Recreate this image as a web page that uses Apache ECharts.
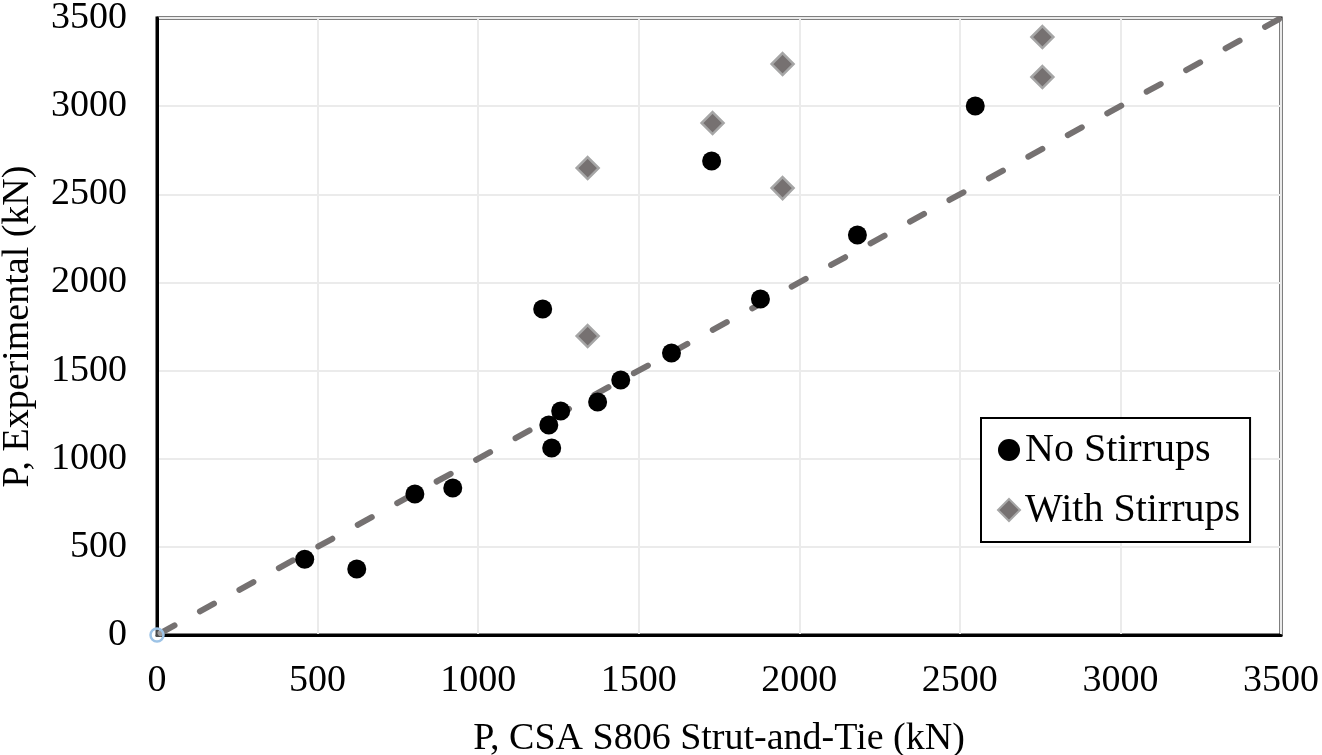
<!DOCTYPE html>
<html>
<head>
<meta charset="utf-8">
<script src="https://cdn.jsdelivr.net/npm/echarts@6/dist/echarts.min.js"></script>
<style>
  html, body { margin: 0; padding: 0; background: #fff; }
  #chart { width: 1322px; height: 755px; }
</style>
</head>
<body>
<div id="chart"></div>
<script>
// No Stirrups: [P CSA S806, P experimental] (kN)
const noStirrupsX = [460, 622, 803, 921, 1201, 1220, 1229, 1257, 1372, 1444, 1602, 1727, 1879, 2181, 2548]
const noStirrupsY = [430, 374, 800, 834, 1849, 1191, 1061, 1271, 1322, 1446, 1600, 2689, 1906, 2269, 3001]
// With Stirrups
const withStirrupsX = [1341, 1341, 1730, 1948, 1948, 2757, 2757]
const withStirrupsY = [2649, 1696, 2904, 3239, 2535, 3392, 3165]
// 1:1 line
const lineX = [0, 3500]
const lineY = [0, 3500]
const axisTicks = [0, 500, 1000, 1500, 2000, 2500, 3000, 3500]

const zip = (a, b) => a.map((v, i) => [v, b[i]])
const font = 'Liberation Serif'

const axisCommon = {
  type: 'value',
  min: axisTicks[0],
  max: axisTicks[axisTicks.length - 1],
  interval: axisTicks[1] - axisTicks[0],
  nameLocation: 'middle',
  nameTextStyle: { fontFamily: font, fontSize: 38, color: '#000' },
  axisLine: { show: true, lineStyle: { color: '#000', width: 3 } },
  axisTick: { show: false },
  axisLabel: { fontFamily: font, fontSize: 38, color: '#000', formatter: v => String(v) },
  splitLine: { show: true, lineStyle: { color: '#ebebeb', width: 2 } }
}

const chart = echarts.init(document.getElementById('chart'), null, { renderer: 'canvas' })
chart.setOption({
  animation: false,
  grid: {
    left: 157, right: 41, top: 18, bottom: 120,
    outerBoundsMode: 'none',
    containLabel: false,
    show: true, borderColor: '#000', borderWidth: 3, backgroundColor: 'transparent'
  },
  legend: {
    orient: 'vertical',
    left: 981, top: 418,
    padding: [12, 10, 12, 16],
    borderColor: '#000', borderWidth: 2,
    backgroundColor: '#fff',
    itemWidth: 22, itemHeight: 22, itemGap: 20,
    textStyle: { fontFamily: font, fontSize: 40, color: '#000' },
    data: ['No Stirrups', 'With Stirrups']
  },
  xAxis: Object.assign({}, axisCommon, {
    name: 'P, CSA S806 Strut-and-Tie (kN)',
    nameGap: 85,
    axisLabel: Object.assign({}, axisCommon.axisLabel, { margin: 27 })
  }),
  yAxis: Object.assign({}, axisCommon, {
    name: 'P, Experimental (kN)',
    nameGap: 120,
    axisLabel: Object.assign({}, axisCommon.axisLabel, { margin: 30 })
  }),
  series: [
    {
      name: '1:1',
      type: 'line',
      z: 1,
      data: zip(lineX, lineY),
      showSymbol: false,
      lineStyle: { color: '#757171', width: 6, type: [16, 29], dashOffset: -4, cap: 'round' }
    },
    {
      name: 'origin',
      type: 'scatter',
      z: 5,
      zlevel: 1,
      clip: false,
      data: [[lineX[0], lineY[0]]],
      symbol: 'circle',
      symbolSize: 13,
      itemStyle: { color: 'rgba(255,255,255,0.3)', borderColor: '#9dc3e6', borderWidth: 2.5, opacity: 1 }
    },
    {
      name: 'No Stirrups',
      type: 'scatter',
      z: 3,
      data: zip(noStirrupsX, noStirrupsY),
      symbol: 'circle',
      symbolSize: 19,
      itemStyle: { color: '#000', opacity: 1 }
    },
    {
      name: 'With Stirrups',
      type: 'scatter',
      z: 3,
      data: zip(withStirrupsX, withStirrupsY),
      symbol: 'diamond',
      symbolSize: 22,
      itemStyle: { color: '#767171', borderColor: '#a6a6a6', borderWidth: 2.5, opacity: 1 }
    }
  ]
})
</script>
</body>
</html>
